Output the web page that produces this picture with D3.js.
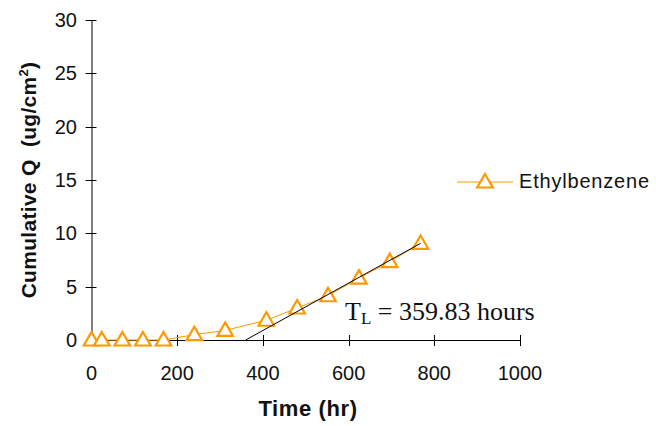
<!DOCTYPE html>
<html>
<head>
<meta charset="utf-8">
<script src="https://cdn.jsdelivr.net/npm/d3@7"></script>
<style>
  html, body { margin: 0; padding: 0; background: #fff; }
  svg { display: block; }
</style>
</head>
<body>
<div id="chart"></div>
<script>
// Cumulative permeated amount of ethylbenzene over time
const hours = [0, 24, 72, 120, 168, 240, 312, 408, 480, 552, 624, 696, 768];
const cumulativeQ = [0, 0, 0, 0, 0, 0.5, 0.9, 1.85, 3.0, 4.15, 5.8, 7.35, 9.05];
const seriesName = "Ethylbenzene";

// Steady-state fit: x-intercept (lag time) and slope
const lagTime = 359.83;
const fitSlope = 0.0222;
const fitEnd = 768;

const xTicks = [0, 200, 400, 600, 800, 1000];
const yTicks = [0, 5, 10, 15, 20, 25, 30];

const W = 656, H = 426;
const orange = "#FF9900";
const sans = "Arial, 'Liberation Sans', sans-serif";
const serif = "'Liberation Serif', 'Times New Roman', serif";

const svg = d3.select("#chart").append("svg")
  .attr("width", W).attr("height", H)
  .style("font-family", sans);

const x = d3.scaleLinear().domain([0, 1000]).range([91.5, 520]);
const y = d3.scaleLinear().domain([0, 30]).range([340, 20]);

// Axes with ticks crossing the axis line
const axes = svg.append("g").attr("stroke", "#000").attr("stroke-width", 1);
axes.append("line")
  .attr("x1", x(0)).attr("x2", x(1000))
  .attr("y1", y(0) + 0.5).attr("y2", y(0) + 0.5);
axes.append("line")
  .attr("x1", x(0) + 0.5).attr("x2", x(0) + 0.5)
  .attr("y1", y(30)).attr("y2", y(0));
axes.selectAll(".xt").data(xTicks.slice(1)).join("line")
  .attr("x1", d => Math.round(x(d)) + 0.5).attr("x2", d => Math.round(x(d)) + 0.5)
  .attr("y1", y(0) - 5).attr("y2", y(0) + 6);
axes.selectAll(".yt").data(yTicks.slice(1)).join("line")
  .attr("x1", x(0) - 6).attr("x2", x(0) + 5)
  .attr("y1", d => Math.round(y(d)) + 0.5).attr("y2", d => Math.round(y(d)) + 0.5);

svg.selectAll(".xl").data(xTicks).join("text")
  .attr("x", d => x(d)).attr("y", 380)
  .attr("text-anchor", "middle").attr("font-size", 20).attr("fill", "#111")
  .text(d => d);
svg.selectAll(".yl").data(yTicks).join("text")
  .attr("x", 77).attr("y", d => y(d) + 7)
  .attr("text-anchor", "end").attr("font-size", 20).attr("fill", "#111")
  .text(d => d);

// Axis titles
svg.append("text")
  .attr("x", 308).attr("y", 416)
  .attr("text-anchor", "middle").attr("font-size", 22).attr("font-weight", "bold")
  .attr("letter-spacing", 0.6).attr("fill", "#111")
  .text("Time (hr)");
const yTitle = svg.append("text")
  .attr("transform", "translate(36,180) rotate(-90)")
  .attr("text-anchor", "middle").attr("font-size", 21).attr("font-weight", "bold")
  .attr("letter-spacing", 0.3).attr("fill", "#111");
yTitle.append("tspan").text("Cumulative Q\u00a0\u00a0(ug/cm");
yTitle.append("tspan").attr("dy", -8).attr("font-size", 13).text("2");
yTitle.append("tspan").attr("dy", 8).text(")");

// Data series
const line = d3.line().x((d, i) => x(hours[i])).y(d => y(d));
svg.append("path")
  .datum(cumulativeQ)
  .attr("d", line)
  .attr("fill", "none").attr("stroke", orange).attr("stroke-width", 1);

const tri = d3.symbol().type(d3.symbolTriangle).size(105);
svg.selectAll(".pt").data(cumulativeQ).join("path")
  .attr("d", tri)
  .attr("transform", (d, i) => `translate(${x(hours[i])},${y(d) + 1})`)
  .attr("fill", "#fff").attr("stroke", orange).attr("stroke-width", 2.2);

// Lag-time fit line
svg.append("line")
  .attr("x1", x(lagTime)).attr("y1", y(0))
  .attr("x2", x(fitEnd)).attr("y2", y(fitSlope * (fitEnd - lagTime)))
  .attr("stroke", "#000").attr("stroke-width", 1);

// Annotation
const ann = svg.append("text")
  .attr("x", 345).attr("y", 320)
  .style("font-family", serif)
  .attr("font-size", 26).attr("fill", "#111");
ann.append("tspan").text("T");
ann.append("tspan").attr("dy", 4).attr("font-size", 17).text("L");
ann.append("tspan").attr("dy", -4).text(" = " + lagTime + " hours");

// Legend
const lg = svg.append("g");
lg.append("line")
  .attr("x1", 457).attr("x2", 513).attr("y1", 182).attr("y2", 182)
  .attr("stroke", orange).attr("stroke-width", 1);
lg.append("path").attr("d", tri)
  .attr("transform", "translate(485,183)")
  .attr("fill", "#fff").attr("stroke", orange).attr("stroke-width", 2.2);
lg.append("text")
  .attr("x", 519).attr("y", 188).attr("font-size", 20).attr("letter-spacing", 0.8)
  .attr("fill", "#111")
  .text(seriesName);
</script>
</body>
</html>
